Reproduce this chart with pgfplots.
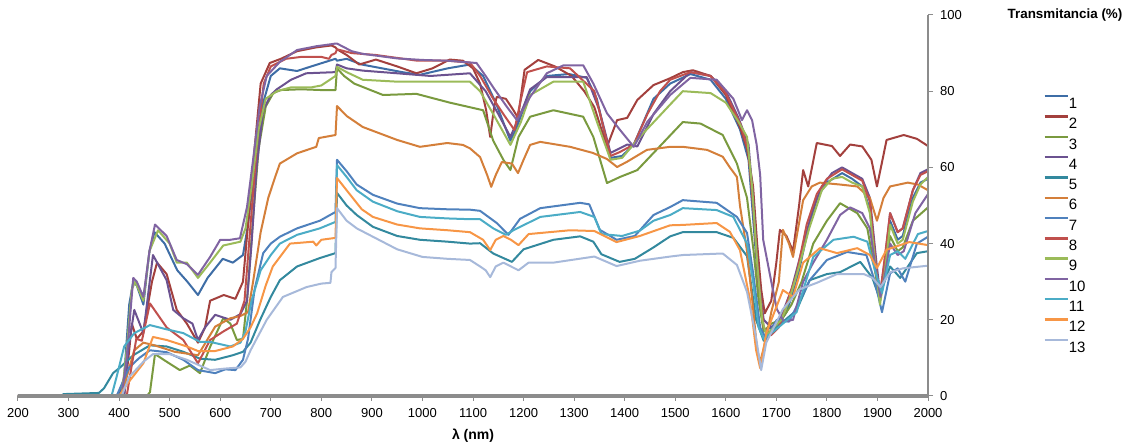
\documentclass[border=0pt]{standalone}
\usepackage{pgfplots}
\pgfplotsset{compat=1.18}
\usepackage{fontspec}
\setmainfont{Liberation Sans}
\definecolor{c1}{HTML}{3E6DA6}
\definecolor{c2}{HTML}{A3403D}
\definecolor{c3}{HTML}{7A9A3F}
\definecolor{c4}{HTML}{6B5290}
\definecolor{c5}{HTML}{33899E}
\definecolor{c6}{HTML}{D47F3A}
\definecolor{c7}{HTML}{4F81BD}
\definecolor{c8}{HTML}{C0504D}
\definecolor{c9}{HTML}{9BBB59}
\definecolor{c10}{HTML}{8064A2}
\definecolor{c11}{HTML}{4BACC6}
\definecolor{c12}{HTML}{F79646}
\definecolor{c13}{HTML}{A7B9DA}
\definecolor{axgray}{HTML}{8C8C8C}
\begin{document}
\begin{tikzpicture}
\begin{axis}[name=ax, scale only axis, width=455pt, height=190.5pt,
 xmin=200, xmax=2000, ymin=0, ymax=100,
 axis x line*=bottom, axis y line*=right, axis on top,
 xtick={200,300,...,2000}, ytick={0,20,...,100},
 x axis line style={line width=1.8pt, draw=axgray},
 y axis line style={line width=0.6pt, draw=axgray},
 tick align=outside, major tick length=2.5pt,
 tick style={draw=axgray, line width=0.5pt},
 /pgf/number format/assume math mode=true,
 /pgf/number format/set thousands separator={},
 xticklabel style={font=\fontsize{6.5}{7}\selectfont},
 yticklabel style={font=\fontsize{6.5}{7}\selectfont},
 xlabel={\bfseries λ (nm)},
 xlabel style={font=\fontsize{7}{8}\selectfont, yshift=1pt},
 every axis plot/.append style={line width=1pt, line join=round},
 legend style={at={(1.1264,0.791)}, anchor=north west, draw=none, fill=none,
   font=\fontsize{7.5}{8}\selectfont, inner sep=0pt, row sep=3.45pt, column sep=0pt,
   nodes={inner sep=0pt, text height=5.4pt, text depth=0pt}},
 legend cell align=left,
 legend image code/.code={\draw[#1, line width=1.2pt] (0pt,3.4pt) -- (11.5pt,3.4pt);},
]
% 1
\addplot[c1] coordinates {(200,0)(400,0)(410,5)(420,24)(428,30)(435,29)(448,24)(460,38)(470,43)(490,40)(515,33)(535,30)(556,26.5)(575,31)(605,36)(625,35)(645,37)(655,45)(670,62)(685,77)(700,84)(718,86)(752,85.3)(780,86.5)(828,88.5)(831,88)(850,88.5)(880,87)(920,86)(960,85)(995,84.3)(1050,86)(1094,87)(1120,84)(1145,77)(1174,67)(1185,70)(1213,80)(1246,84)(1290,84.5)(1325,83.5)(1345,78)(1365,66)(1372,62.5)(1395,63)(1418,66)(1457,78)(1490,82)(1530,84.5)(1570,83)(1600,78)(1628,70)(1645,62)(1655,45)(1665,28)(1675,17)(1690,18)(1705,19)(1720,22)(1740,30)(1760,42)(1780,52)(1800,56)(1830,58.5)(1850,57)(1870,55)(1885,49)(1898,32)(1905,25)(1915,35)(1925,46)(1940,41)(1950,42)(1970,52)(1985,56)(2000,57)};
\addlegendentry{1}
% 2
\addplot[c2] coordinates {(200,0)(410,0)(420,12)(425,19)(435,15)(448,17)(465,30)(475,35)(494,32)(514,22.6)(534,19)(556,14)(570,18)(580,25)(607,26.5)(630,25.5)(645,30)(655,45)(668,65)(680,82)(698,87.4)(720,88.5)(752,90.5)(790,91.5)(820,92)(828,91.5)(831,91)(850,89.5)(875,87)(908,88.3)(950,86.5)(988,84.7)(1020,86)(1054,88.3)(1080,88)(1100,86)(1114,82)(1126,75)(1134,68)(1142,76)(1147,78.5)(1165,78)(1180,75)(1189,73)(1202,85.6)(1229,88.2)(1262,86.5)(1295,84)(1320,80)(1340,75.8)(1365,65.4)(1385,72.4)(1405,73)(1425,77.7)(1457,81.6)(1490,83.4)(1515,85)(1535,85.5)(1570,84)(1600,79)(1628,70.6)(1642,65)(1654,55)(1662,40)(1670,28)(1677,21.7)(1690,25)(1700,35)(1707,43.6)(1720,42)(1733,38)(1745,50)(1753,59.3)(1763,55)(1780,66.4)(1810,65.6)(1826,63)(1846,66)(1870,65.5)(1888,62)(1899,55)(1910,62)(1918,67.2)(1952,68.5)(1978,67.5)(2000,65.6)};
\addlegendentry{2}
% 3
\addplot[c3] coordinates {(200,0)(455,0)(461,1)(471,11)(494,9)(520,6.8)(540,8)(560,6)(580,12.9)(606,20.4)(620,19)(633,14.7)(645,15)(653,25)(664,45)(676,65)(690,76)(705,79.5)(720,80.3)(760,80.5)(800,80.3)(828,80.3)(831,86)(845,84)(865,82)(922,79)(988,79.3)(1054,77)(1120,75)(1140,67)(1160,62)(1174,59.3)(1190,68)(1213,73.3)(1259,75)(1318,73.3)(1338,68)(1365,55.9)(1391,57.5)(1425,59.3)(1480,67)(1515,71.9)(1550,71.5)(1594,68.5)(1622,61)(1642,52)(1655,38)(1665,25)(1675,17)(1690,19)(1710,20)(1730,24)(1750,30)(1773,40)(1800,46)(1826,50.6)(1860,48)(1880,44)(1895,33)(1905,25)(1915,32)(1925,42)(1940,38)(1950,39)(1970,46)(2000,49.5)};
\addlegendentry{3}
% 4
\addplot[c4] coordinates {(200,0)(410,0)(418,12)(430,22.6)(448,16.5)(467,37)(494,30.4)(507,22.6)(527,20.4)(545,19)(556,14.7)(570,18)(590,21.3)(620,20)(640,21.5)(653,25)(662,40)(672,60)(685,75)(700,79)(712,80.5)(740,83)(770,84.7)(828,85)(831,87)(850,86)(882,85.4)(950,84.7)(1016,84)(1094,84.7)(1125,80)(1150,74)(1174,68)(1200,76)(1213,80.5)(1246,83.7)(1325,83.7)(1350,75)(1372,63.8)(1405,66)(1425,65.5)(1457,74)(1490,80)(1530,85)(1570,84)(1600,80)(1625,73)(1645,66)(1655,50)(1665,30)(1675,20)(1690,18)(1710,21)(1730,28)(1750,38)(1770,48)(1790,55)(1810,58.5)(1830,60)(1850,58.5)(1870,57)(1885,52)(1898,35)(1905,27)(1915,36)(1925,48)(1940,43)(1950,44)(1970,54)(1985,58.5)(2000,59.5)};
\addlegendentry{4}
% 5
\addplot[c5] coordinates {(200,0)(285,0)(290,0.5)(360,0.8)(370,2)(388,6)(402,7.5)(428,10.7)(461,13.3)(494,13)(527,11.6)(560,9.8)(590,9.5)(625,10.7)(645,11.6)(660,14)(679,20)(700,26)(718,30.4)(752,34)(797,36.2)(828,37.5)(831,53.3)(850,50)(870,47.5)(902,44.4)(950,42)(995,41)(1050,40.5)(1094,40)(1114,40.1)(1140,37.4)(1177,35.2)(1200,38.5)(1259,41)(1312,41.9)(1338,40.5)(1354,37.2)(1390,35.2)(1420,36)(1457,39)(1490,41.9)(1515,43)(1582,43)(1615,41.5)(1642,36.7)(1660,20)(1675,14.5)(1700,18)(1740,22.5)(1766,30.4)(1800,32)(1826,32.5)(1866,35.2)(1890,31)(1903,26)(1925,34)(1945,31)(1978,37.5)(2000,38)};
\addlegendentry{5}
% 6
\addplot[c6] coordinates {(200,0)(405,0)(415,5)(430,12)(448,14)(470,13.3)(510,11.6)(556,10.7)(590,18.2)(620,20.4)(640,21)(655,22)(665,30)(680,43)(695,52)(710,58)(718,61)(752,63.7)(790,65.4)(795,67.7)(828,68.5)(831,76.1)(850,73.5)(882,70.6)(950,67.2)(995,65.4)(1049,66.4)(1080,65.9)(1094,65)(1114,62.7)(1128,58)(1136,54.9)(1145,58)(1157,61.4)(1177,61)(1189,58.5)(1200,62)(1213,65.9)(1233,66.7)(1292,65.4)(1337,63.8)(1365,62.2)(1385,60.1)(1405,61.5)(1444,64.6)(1490,65.4)(1515,65.4)(1563,64.6)(1594,62.8)(1608,60)(1622,57.5)(1628,50)(1642,38)(1654,23)(1662,12)(1668,9)(1678,14)(1690,22)(1705,30)(1713,43.6)(1725,40)(1733,36.5)(1753,51.4)(1770,55)(1786,56)(1826,55.5)(1860,55)(1885,52)(1899,46)(1912,52)(1925,55)(1960,56)(1980,55.5)(2000,54)};
\addlegendentry{6}
% 7
\addplot[c7] coordinates {(200,0)(395,0)(405,3)(420,7.5)(440,10)(461,12)(494,11.5)(527,9.5)(556,6.8)(590,6)(610,7)(630,6.8)(645,9.5)(655,15)(668,28)(685,37.5)(700,40)(718,41.8)(752,44)(797,46)(828,48.3)(831,62)(850,59)(870,55.5)(902,52.8)(950,50.5)(995,49.3)(1050,49)(1094,48.9)(1114,48.6)(1147,45.4)(1170,42.3)(1193,46.5)(1233,49.3)(1312,50.7)(1330,50.3)(1351,43.6)(1384,41)(1420,42)(1457,47.5)(1490,49.6)(1515,51.4)(1582,50.7)(1622,47)(1642,42.8)(1654,32.3)(1668,18)(1680,15)(1701,20)(1725,19.5)(1766,30.4)(1800,35.7)(1840,37.8)(1878,37)(1895,30)(1909,22)(1925,32.2)(1940,33.5)(1955,30)(1978,40)(2000,41.8)};
\addlegendentry{7}
% 8
\addplot[c8] coordinates {(200,0)(415,0)(425,8)(434,15)(445,14.5)(461,24.3)(494,18)(527,14.7)(556,8.6)(580,14.7)(607,17)(633,19)(648,25)(660,45)(672,65)(686,82)(700,86.5)(730,88.5)(760,89)(800,89)(815,88.5)(820,89.5)(828,90)(831,91)(860,90)(908,89.5)(990,88)(1050,88)(1094,87.5)(1114,84)(1140,78)(1160,74)(1182,69.8)(1195,78)(1207,85)(1246,86.5)(1292,86)(1340,80)(1372,63)(1390,64)(1418,66)(1445,74)(1470,80)(1490,83)(1530,85)(1570,84)(1600,79.5)(1630,71)(1645,64)(1655,48)(1665,30)(1675,18)(1690,16)(1705,18)(1720,24)(1740,32)(1760,45)(1780,53)(1800,57)(1830,59.5)(1850,58)(1870,56.5)(1885,51)(1898,33)(1905,26)(1915,37)(1925,48)(1940,43)(1950,44)(1970,54)(1985,58)(2000,59)};
\addlegendentry{8}
% 9
\addplot[c9] coordinates {(200,0)(405,0)(415,12)(425,28)(432,30)(448,25)(460,38)(477,43.5)(500,40)(514,35)(534,35)(556,31)(580,35)(606,39.5)(640,40.5)(650,44)(662,55)(676,70)(690,78)(712,80)(740,81)(780,81)(800,81.5)(828,84)(831,86.4)(850,85)(882,83)(950,82.5)(1030,82.5)(1094,82.5)(1114,80)(1140,74)(1174,65.9)(1195,72)(1213,79)(1259,82.5)(1318,82.5)(1345,72)(1372,62)(1395,62.5)(1430,68)(1490,76.5)(1515,80)(1570,79.5)(1600,77)(1625,72)(1642,68)(1652,55)(1662,35)(1672,20)(1680,16)(1695,18)(1710,20)(1725,25)(1745,34)(1765,44)(1790,54)(1810,57)(1830,57.5)(1850,56)(1870,55)(1885,48)(1898,32)(1905,24)(1915,33)(1925,45)(1940,40)(1950,41)(1970,51)(1985,55.5)(2000,57.5)};
\addlegendentry{9}
% 10
\addplot[c10] coordinates {(200,0)(405,0)(415,10)(428,31)(435,30)(448,26)(460,38)(471,45)(494,42)(514,35.7)(534,34.6)(556,31.8)(580,36.5)(600,41)(620,41)(639,41.4)(653,49.6)(665,62)(678,76)(692,84)(718,87.7)(752,90.8)(790,91.8)(818,92.3)(828,92.5)(831,92.5)(860,90.5)(882,89.8)(950,88.6)(1000,88.2)(1050,88)(1107,87.4)(1125,84)(1140,81)(1167,75.9)(1187,72.4)(1213,78.5)(1246,84.7)(1279,86.8)(1318,86.8)(1338,82)(1365,74.2)(1391,69.8)(1418,65.4)(1445,72)(1490,79)(1530,83.5)(1582,83)(1615,78)(1632,72.4)(1642,75)(1652,72.4)(1661,66)(1668,58)(1674,41)(1690,30)(1701,22.8)(1715,19.5)(1733,20)(1753,30)(1773,35)(1800,41)(1826,47.5)(1846,49.5)(1870,48)(1885,44)(1898,32)(1906,26)(1915,32)(1925,40)(1940,37)(1952,38)(1975,48)(2000,53)};
\addlegendentry{10}
% 11
\addplot[c11] coordinates {(200,0)(385,0)(395,5)(410,13)(430,16.5)(461,18.6)(494,17.5)(527,16.5)(560,14.2)(580,14.2)(620,13)(640,14)(650,17)(662,25)(680,33)(700,37)(718,40)(752,42.3)(797,44)(828,45.7)(831,60.6)(850,57.5)(870,54)(902,51)(950,48.5)(995,47)(1050,46.6)(1094,46.4)(1114,46.4)(1140,44)(1165,42.3)(1180,43.5)(1195,44.5)(1233,47)(1312,48.3)(1340,47)(1354,42.5)(1395,42)(1430,43.4)(1457,46)(1490,47.5)(1515,49.3)(1582,48.8)(1615,47)(1642,40)(1654,30)(1665,18)(1675,15)(1695,17)(1740,22)(1773,36.5)(1813,41)(1853,41.8)(1880,40.5)(1895,33)(1909,27)(1925,37)(1940,38)(1955,36)(1980,42.5)(2000,43.3)};
\addlegendentry{11}
% 12
\addplot[c12] coordinates {(200,0)(400,0)(415,3)(448,8.6)(467,15.5)(494,14.7)(534,13)(556,11.8)(590,11.8)(625,13)(645,15)(660,18)(673,21.7)(690,29)(704,34)(738,40)(784,40.5)(790,39.5)(800,41)(828,41.5)(831,57.2)(850,54)(880,49)(902,47)(950,45)(995,44)(1050,43.5)(1094,43)(1120,41)(1134,38.3)(1145,41)(1160,42)(1175,41)(1190,39.6)(1210,42.5)(1292,43.5)(1340,43.3)(1384,40.4)(1430,42)(1490,44.8)(1515,44.9)(1582,45.4)(1608,43.1)(1628,38.3)(1648,25.2)(1660,12)(1668,7.3)(1680,16.5)(1713,27.8)(1733,26)(1753,35)(1786,38.8)(1820,37.5)(1860,38.8)(1885,37)(1899,33.6)(1918,38.4)(1963,40.4)(2000,39.6)};
\addlegendentry{12}
% 13
\addplot[c13] coordinates {(200,0)(405,0)(420,5)(448,9)(467,11)(500,11)(534,9.5)(580,6.8)(610,7.2)(640,7.5)(650,9)(660,12)(680,17)(692,20)(724,26)(771,28.6)(800,29.5)(818,29.7)(820,32.5)(828,33.6)(831,49.3)(850,46)(870,44)(902,41.8)(950,38.5)(1000,36.5)(1050,36)(1094,35.7)(1114,34)(1125,33)(1134,31.2)(1145,34)(1160,35)(1175,34)(1190,33)(1210,35)(1259,35)(1340,36.6)(1384,34.1)(1430,35.5)(1490,36.6)(1515,37)(1594,37.4)(1622,34.4)(1642,27.3)(1659,16)(1670,6.8)(1680,14)(1713,22.8)(1746,28)(1780,29.7)(1820,32)(1873,32)(1890,31)(1906,28.6)(1925,32.5)(1950,33.5)(2000,34.2)};
\addlegendentry{13}
\end{axis}
\node[font=\bfseries\fontsize{6.7}{7}\selectfont] at ([xshift=68.5pt]ax.north east) {Transmitancia (\%)};
\pgfresetboundingbox
\path[use as bounding box] ([shift={(-9pt,-26pt)}]ax.south west) rectangle ([shift={(102pt,7.5pt)}]ax.north east);
\end{tikzpicture}
\end{document}
